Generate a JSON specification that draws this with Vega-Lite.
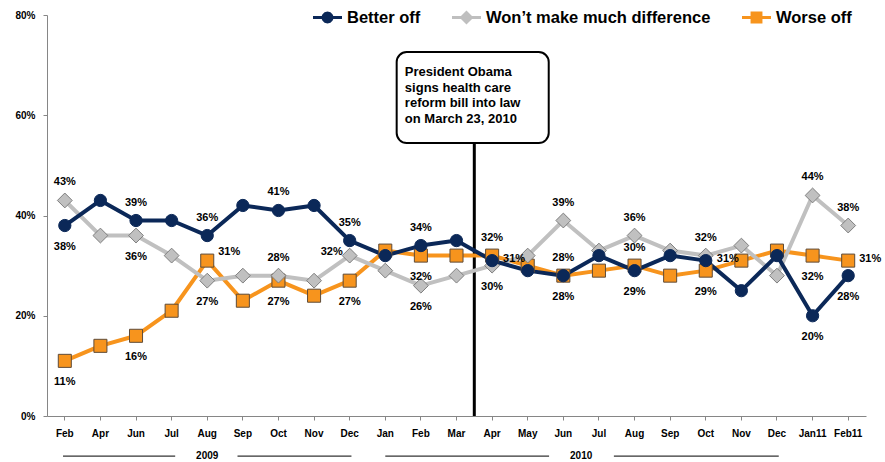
{
  "$schema": "https://vega.github.io/schema/vega-lite/v6.json",
  "width": 819,
  "height": 401,
  "autosize": "none",
  "padding": {"left": 47, "top": 15, "right": 19, "bottom": 46},
  "background": "white",
  "config": {
    "view": {"stroke": null},
    "font": "Liberation Sans",
    "axis": {"labelFont": "Liberation Sans", "labelFontWeight": "bold", "labelFontSize": 10, "labelColor": "black", "tickColor": "#868686", "domainColor": "#868686", "grid": false, "tickSize": 4},
    "text": {"font": "Liberation Sans", "fontWeight": "bold", "fontSize": 11, "color": "black"}
  },
  "data": {
    "values": [
      {"m": "Feb09", "series": "Worse off", "v": 0.11},
      {"m": "Apr09", "series": "Worse off", "v": 0.14},
      {"m": "Jun09", "series": "Worse off", "v": 0.16},
      {"m": "Jul09", "series": "Worse off", "v": 0.21},
      {"m": "Aug09", "series": "Worse off", "v": 0.31},
      {"m": "Sep09", "series": "Worse off", "v": 0.23},
      {"m": "Oct09", "series": "Worse off", "v": 0.27},
      {"m": "Nov09", "series": "Worse off", "v": 0.24},
      {"m": "Dec09", "series": "Worse off", "v": 0.27},
      {"m": "Jan10", "series": "Worse off", "v": 0.33},
      {"m": "Feb10", "series": "Worse off", "v": 0.32},
      {"m": "Mar10", "series": "Worse off", "v": 0.32},
      {"m": "Apr10", "series": "Worse off", "v": 0.32},
      {"m": "May10", "series": "Worse off", "v": 0.30},
      {"m": "Jun10", "series": "Worse off", "v": 0.28},
      {"m": "Jul10", "series": "Worse off", "v": 0.29},
      {"m": "Aug10", "series": "Worse off", "v": 0.30},
      {"m": "Sep10", "series": "Worse off", "v": 0.28},
      {"m": "Oct10", "series": "Worse off", "v": 0.29},
      {"m": "Nov10", "series": "Worse off", "v": 0.31},
      {"m": "Dec10", "series": "Worse off", "v": 0.33},
      {"m": "Jan11", "series": "Worse off", "v": 0.32},
      {"m": "Feb11", "series": "Worse off", "v": 0.31},
      {"m": "Feb09", "series": "Won’t make much difference", "v": 0.43},
      {"m": "Apr09", "series": "Won’t make much difference", "v": 0.36},
      {"m": "Jun09", "series": "Won’t make much difference", "v": 0.36},
      {"m": "Jul09", "series": "Won’t make much difference", "v": 0.32},
      {"m": "Aug09", "series": "Won’t make much difference", "v": 0.27},
      {"m": "Sep09", "series": "Won’t make much difference", "v": 0.28},
      {"m": "Oct09", "series": "Won’t make much difference", "v": 0.28},
      {"m": "Nov09", "series": "Won’t make much difference", "v": 0.27},
      {"m": "Dec09", "series": "Won’t make much difference", "v": 0.32},
      {"m": "Jan10", "series": "Won’t make much difference", "v": 0.29},
      {"m": "Feb10", "series": "Won’t make much difference", "v": 0.26},
      {"m": "Mar10", "series": "Won’t make much difference", "v": 0.28},
      {"m": "Apr10", "series": "Won’t make much difference", "v": 0.30},
      {"m": "May10", "series": "Won’t make much difference", "v": 0.32},
      {"m": "Jun10", "series": "Won’t make much difference", "v": 0.39},
      {"m": "Jul10", "series": "Won’t make much difference", "v": 0.33},
      {"m": "Aug10", "series": "Won’t make much difference", "v": 0.36},
      {"m": "Sep10", "series": "Won’t make much difference", "v": 0.33},
      {"m": "Oct10", "series": "Won’t make much difference", "v": 0.32},
      {"m": "Nov10", "series": "Won’t make much difference", "v": 0.34},
      {"m": "Dec10", "series": "Won’t make much difference", "v": 0.28},
      {"m": "Jan11", "series": "Won’t make much difference", "v": 0.44},
      {"m": "Feb11", "series": "Won’t make much difference", "v": 0.38},
      {"m": "Feb09", "series": "Better off", "v": 0.38},
      {"m": "Apr09", "series": "Better off", "v": 0.43},
      {"m": "Jun09", "series": "Better off", "v": 0.39},
      {"m": "Jul09", "series": "Better off", "v": 0.39},
      {"m": "Aug09", "series": "Better off", "v": 0.36},
      {"m": "Sep09", "series": "Better off", "v": 0.42},
      {"m": "Oct09", "series": "Better off", "v": 0.41},
      {"m": "Nov09", "series": "Better off", "v": 0.42},
      {"m": "Dec09", "series": "Better off", "v": 0.35},
      {"m": "Jan10", "series": "Better off", "v": 0.32},
      {"m": "Feb10", "series": "Better off", "v": 0.34},
      {"m": "Mar10", "series": "Better off", "v": 0.35},
      {"m": "Apr10", "series": "Better off", "v": 0.31},
      {"m": "May10", "series": "Better off", "v": 0.29},
      {"m": "Jun10", "series": "Better off", "v": 0.28},
      {"m": "Jul10", "series": "Better off", "v": 0.32},
      {"m": "Aug10", "series": "Better off", "v": 0.29},
      {"m": "Sep10", "series": "Better off", "v": 0.32},
      {"m": "Oct10", "series": "Better off", "v": 0.31},
      {"m": "Nov10", "series": "Better off", "v": 0.25},
      {"m": "Dec10", "series": "Better off", "v": 0.32},
      {"m": "Jan11", "series": "Better off", "v": 0.20},
      {"m": "Feb11", "series": "Better off", "v": 0.28}
    ]
  },
  "encoding": {
    "x": {
      "field": "m",
      "type": "ordinal",
      "scale": {
        "type": "band",
        "paddingInner": 0,
        "paddingOuter": 0,
        "domain": ["Feb09","Apr09","Jun09","Jul09","Aug09","Sep09","Oct09","Nov09","Dec09","Jan10","Feb10","Mar10","Apr10","May10","Jun10","Jul10","Aug10","Sep10","Oct10","Nov10","Dec10","Jan11","Feb11"]
      },
      "axis": {"title": null, "labelAngle": 0, "labelExpr": "slice(datum.value,3)=='11' ? datum.value : slice(datum.value,0,3)", "labelPadding": 8}
    },
    "y": {
      "field": "v",
      "type": "quantitative",
      "scale": {"domain": [0, 0.8], "nice": false},
      "axis": {"title": null, "values": [0, 0.2, 0.4, 0.6, 0.8], "format": ".0%", "labelPadding": 8}
    }
  },
  "layer": [
    {
      "data": {"values": [{"m": "Mar10", "v": 0, "v2": 0.5446}]},
      "mark": {"type": "rule", "color": "black", "strokeWidth": 3},
      "encoding": {
        "x": {"field": "m", "type": "ordinal", "bandPosition": 1, "axis": {"title": null, "labelAngle": 0, "labelExpr": "slice(datum.value,3)=='11' ? datum.value : slice(datum.value,0,3)", "labelPadding": 8}},
        "y2": {"field": "v2"}
      }
    },
    {
      "data": {"values": [{"m": "Jan10", "m2": "Jun10", "v": 0.726, "v2": 0.5446}]},
      "mark": {"type": "rect", "fill": "white", "stroke": "black", "strokeWidth": 2, "cornerRadius": 10},
      "encoding": {
        "x": {"field": "m", "type": "ordinal", "bandPosition": 0.82, "axis": {"title": null, "labelAngle": 0, "labelExpr": "slice(datum.value,3)=='11' ? datum.value : slice(datum.value,0,3)", "labelPadding": 8}},
        "x2": {"field": "m2", "bandPosition": 0.09},
        "y2": {"field": "v2"}
      }
    },
    {
      "data": {"values": [{"m": "Feb10", "v": 0.698}]},
      "mark": {"type": "text", "align": "left", "baseline": "top", "fontSize": 13, "lineHeight": 15.5},
      "encoding": {
        "x": {"field": "m", "type": "ordinal", "bandPosition": 0.05, "axis": {"title": null, "labelAngle": 0, "labelExpr": "slice(datum.value,3)=='11' ? datum.value : slice(datum.value,0,3)", "labelPadding": 8}},
        "text": {"value": ["President Obama", "signs health care", "reform bill into law", "on March 23, 2010"]}
      }
    },
    {
      "data": {"values": [{"m": "Feb09", "m2": "Jul09", "v": -0.08}]},
      "mark": {"type": "rule", "color": "black", "strokeWidth": 1},
      "encoding": {
        "x": {"field": "m", "type": "ordinal", "bandPosition": 0.45, "axis": {"title": null, "labelAngle": 0, "labelExpr": "slice(datum.value,3)=='11' ? datum.value : slice(datum.value,0,3)", "labelPadding": 8}},
        "x2": {"field": "m2", "bandPosition": 0.6}
      }
    },
    {
      "data": {"values": [{"m": "Sep09", "m2": "Dec09", "v": -0.08}]},
      "mark": {"type": "rule", "color": "black", "strokeWidth": 1},
      "encoding": {
        "x": {"field": "m", "type": "ordinal", "bandPosition": 0.35, "axis": {"title": null, "labelAngle": 0, "labelExpr": "slice(datum.value,3)=='11' ? datum.value : slice(datum.value,0,3)", "labelPadding": 8}},
        "x2": {"field": "m2", "bandPosition": 0.55}
      }
    },
    {
      "data": {"values": [{"m": "Jan10", "m2": "Jun10", "v": -0.08}]},
      "mark": {"type": "rule", "color": "black", "strokeWidth": 1},
      "encoding": {
        "x2": {"field": "m2", "bandPosition": 0.1}
      }
    },
    {
      "data": {"values": [{"m": "Jul10", "m2": "Dec10", "v": -0.08}]},
      "mark": {"type": "rule", "color": "black", "strokeWidth": 1},
      "encoding": {
        "x": {"field": "m", "type": "ordinal", "bandPosition": 0.92, "axis": {"title": null, "labelAngle": 0, "labelExpr": "slice(datum.value,3)=='11' ? datum.value : slice(datum.value,0,3)", "labelPadding": 8}},
        "x2": {"field": "m2", "bandPosition": 0.55}
      }
    },
    {
      "data": {"values": [{"m": "Aug09", "v": -0.08, "year": "2009"}]},
      "mark": {"type": "text", "fontSize": 10, "baseline": "middle"},
      "encoding": {
        "text": {"field": "year", "type": "nominal"}
      }
    },
    {
      "data": {"values": [{"m": "Jun10", "v": -0.08, "year": "2010"}]},
      "mark": {"type": "text", "fontSize": 10, "baseline": "middle"},
      "encoding": {
        "x": {"field": "m", "type": "ordinal", "bandPosition": 1, "axis": {"title": null, "labelAngle": 0, "labelExpr": "slice(datum.value,3)=='11' ? datum.value : slice(datum.value,0,3)", "labelPadding": 8}},
        "text": {"field": "year", "type": "nominal"}
      }
    },
    {
      "transform": [{"filter": "datum.series=='Worse off'"}],
      "mark": {"type": "line", "strokeWidth": 4, "strokeJoin": "round", "color": "#F7941D"}
    },
    {
      "transform": [{"filter": "datum.series=='Won’t make much difference'"}],
      "mark": {"type": "line", "strokeWidth": 4, "strokeJoin": "round", "color": "#C0C0C0"}
    },
    {
      "transform": [{"filter": "datum.series=='Better off'"}],
      "mark": {"type": "line", "strokeWidth": 4, "strokeJoin": "round", "color": "#0B2858"}
    },
    {
      "transform": [{"filter": "datum.series=='Worse off'"}],
      "mark": {"type": "point", "shape": "square", "filled": true, "opacity": 1, "size": 170, "fill": "#F7941D", "stroke": "#5E4B38", "strokeWidth": 1}
    },
    {
      "transform": [{"filter": "datum.series=='Won’t make much difference'"}],
      "mark": {"type": "point", "shape": "diamond", "filled": true, "opacity": 1, "size": 220, "fill": "#C0C0C0", "stroke": "#7F7F7F", "strokeWidth": 1}
    },
    {
      "transform": [{"filter": "datum.series=='Better off'"}],
      "mark": {"type": "point", "shape": "circle", "filled": true, "opacity": 1, "size": 150, "fill": "#0B2858", "stroke": "#0B2858", "strokeWidth": 1}
    },
    {
      "transform": [{"filter": "(datum.series=='Better off' && indexof(['Jun09','Aug09','Oct09','Dec09','Feb10'],datum.m)>=0) || (datum.series=='Won’t make much difference' && indexof(['Feb09','Oct09','Jun10','Aug10','Oct10','Jan11','Feb11'],datum.m)>=0) || (datum.series=='Worse off' && indexof(['Apr10','Jun10','Aug10'],datum.m)>=0)"}],
      "mark": {"type": "text", "dy": -18, "baseline": "middle"},
      "encoding": {"text": {"field": "v", "type": "quantitative", "format": ".0%"}}
    },
    {
      "transform": [{"filter": "(datum.series=='Better off' && indexof(['Feb09','Jun10','Aug10','Jan11','Feb11'],datum.m)>=0) || (datum.series=='Won’t make much difference' && indexof(['Jun09','Aug09','Feb10','Apr10'],datum.m)>=0) || (datum.series=='Worse off' && indexof(['Feb09','Jun09','Oct09','Dec09','Feb10','Oct10','Jan11'],datum.m)>=0)"}],
      "mark": {"type": "text", "dy": 21, "baseline": "middle"},
      "encoding": {"text": {"field": "v", "type": "quantitative", "format": ".0%"}}
    },
    {
      "transform": [{"filter": "(datum.series=='Better off' && indexof(['Apr10','Oct10'],datum.m)>=0) || (datum.series=='Worse off' && datum.m=='Feb11')"}],
      "mark": {"type": "text", "dx": 11, "dy": -2, "align": "left", "baseline": "middle"},
      "encoding": {"text": {"field": "v", "type": "quantitative", "format": ".0%"}}
    },
    {
      "transform": [{"filter": "datum.series=='Worse off' && datum.m=='Aug09'"}],
      "mark": {"type": "text", "dx": 11, "dy": -9, "align": "left", "baseline": "middle"},
      "encoding": {"text": {"field": "v", "type": "quantitative", "format": ".0%"}}
    },
    {
      "transform": [{"filter": "datum.series=='Won’t make much difference' && datum.m=='Dec09'"}],
      "mark": {"type": "text", "dx": -7, "dy": -4, "align": "right", "baseline": "middle"},
      "encoding": {"text": {"field": "v", "type": "quantitative", "format": ".0%"}}
    },
    {
      "transform": [{"filter": "false"}],
      "mark": {"type": "point", "filled": true, "opacity": 1},
      "encoding": {
        "color": {
          "field": "series",
          "type": "nominal",
          "scale": {"domain": ["Better off", "Won’t make much difference", "Worse off"], "range": ["#0B2858", "#BFBFBF", "#F7941D"]},
          "legend": {
            "title": null, "orient": "none", "legendX": 266, "legendY": -12, "direction": "horizontal",
            "columnPadding": 31, "labelOffset": 5, "labelFont": "Liberation Sans", "labelFontWeight": "bold",
            "labelFontSize": 16.5, "labelColor": "black", "labelLimit": 400, "symbolSize": 841, "symbolStrokeWidth": 0
          }
        },
        "shape": {
          "field": "series",
          "type": "nominal",
          "scale": {
            "domain": ["Better off", "Won’t make much difference", "Worse off"],
            "range": [
              "M-1,-0.1L-0.398,-0.1L-0.355,-0.205L-0.205,-0.355L0,-0.41L0.205,-0.355L0.355,-0.205L0.398,-0.1L1,-0.1L1,0.1L0.398,0.1L0.355,0.205L0.205,0.355L0,0.41L-0.205,0.355L-0.355,0.205L-0.398,0.1L-1,0.1Z",
              "M-1,-0.1L-0.38,-0.1L0,-0.48L0.38,-0.1L1,-0.1L1,0.1L0.38,0.1L0,0.48L-0.38,0.1L-1,0.1Z",
              "M-1,-0.1L-0.41,-0.1L-0.41,-0.41L0.41,-0.41L0.41,-0.1L1,-0.1L1,0.1L0.41,0.1L0.41,0.41L-0.41,0.41L-0.41,0.1L-1,0.1Z"
            ]
          },
          "legend": {
            "title": null, "orient": "none", "legendX": 266, "legendY": -12, "direction": "horizontal",
            "columnPadding": 31, "labelOffset": 5, "labelFont": "Liberation Sans", "labelFontWeight": "bold",
            "labelFontSize": 16.5, "labelColor": "black", "labelLimit": 400, "symbolSize": 841, "symbolStrokeWidth": 0
          }
        }
      }
    }
  ]
}
